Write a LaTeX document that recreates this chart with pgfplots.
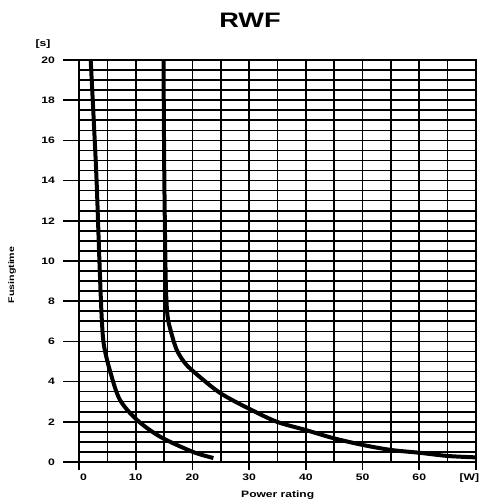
\documentclass[border=0pt]{standalone}
\usepackage{fontspec}
\setmainfont{Liberation Sans}[FakeStretch=1.3]
\usepackage{pgfplots}
\pgfplotsset{compat=1.18}

% fusing time curves
\pgfplotstableread{
x y
2.06 20
2.6 17
3.1 14
3.6 10
4.0 7.2
4.4 5.8
5.5 4.5
7.2 3.1
10.2 2.1
14.3 1.26
20.1 0.5
23.7 0.2
}\curvelow
\pgfplotstableread{
x y
14.9 20
15.05 14
15.3 9
15.6 7.3
16.2 6.5
17.2 5.6
18.6 4.95
20.4 4.45
24.9 3.43
30.2 2.62
34.9 2.0
40 1.59
44.8 1.19
50 0.85
55 0.6
60 0.46
65 0.3
70 0.23
}\curvehigh

\begin{document}
\begin{tikzpicture}[font=\bfseries]
\useasboundingbox (-79bp,-42bp) rectangle (401bp,462bp);
\begin{axis}[
  anchor=origin, at={(0,0)},
  scale only axis,
  x=5.671bp, y=20.1bp,
  xmin=0, xmax=70, ymin=0, ymax=20,
  xtick={0,10,...,70},
  xticklabels={\hspace*{9bp}0,10,20,30,40,50,60,[W]\hspace*{13bp}},
  minor x tick num=1,
  ytick={0,2,...,20},
  minor y tick num=3,
  /pgf/number format/assume math mode=true,
  grid=both,
  grid style={black, line width=1.6bp},
  minor grid style={black, line width=1.6bp},
  axis line style={black, line width=1.6bp},
  major tick length=0pt, minor tick length=0pt,
  tick label style={font=\fontsize{9.4}{10}\selectfont\bfseries, inner sep=0pt},
  yticklabel style={anchor=east, xshift=-24bp},
  xticklabel style={anchor=north, yshift=-12bp},
  clip=false,
]
\addplot [black, line width=4bp, smooth, tension=0.5] table[x=x,y=y] {\curvelow};
\addplot [black, line width=4bp, smooth, tension=0.5] table[x=x,y=y] {\curvehigh};
% outward ticks
\pgfplotsinvokeforeach{0,2,...,20}{
  \draw[black, line width=1.6bp] (axis cs:0,#1) -- ++(-16bp,0);
}
\pgfplotsinvokeforeach{0,10,...,70}{
  \draw[black, line width=1.6bp] (axis cs:#1,0) -- ++(0,-8bp);
}
\draw[black, line width=2.4bp] (axis cs:0,0) ++(0,-8bp) -- (axis cs:0,20);
\end{axis}
\node[font=\fontsize{21}{22}\selectfont\bfseries] at (171bp,442bp) {RWF};
\node[font=\fontsize{9.4}{10}\selectfont\bfseries] at (-36bp,418bp) {[s]};
\node[font=\fontsize{8.2}{9}\selectfont\bfseries, rotate=90] at (-67bp,187bp) {Fusingtime};
\node[font=\fontsize{9.3}{10}\selectfont\bfseries] at (198.7bp,-33bp) {Power rating};
\end{tikzpicture}
\end{document}
